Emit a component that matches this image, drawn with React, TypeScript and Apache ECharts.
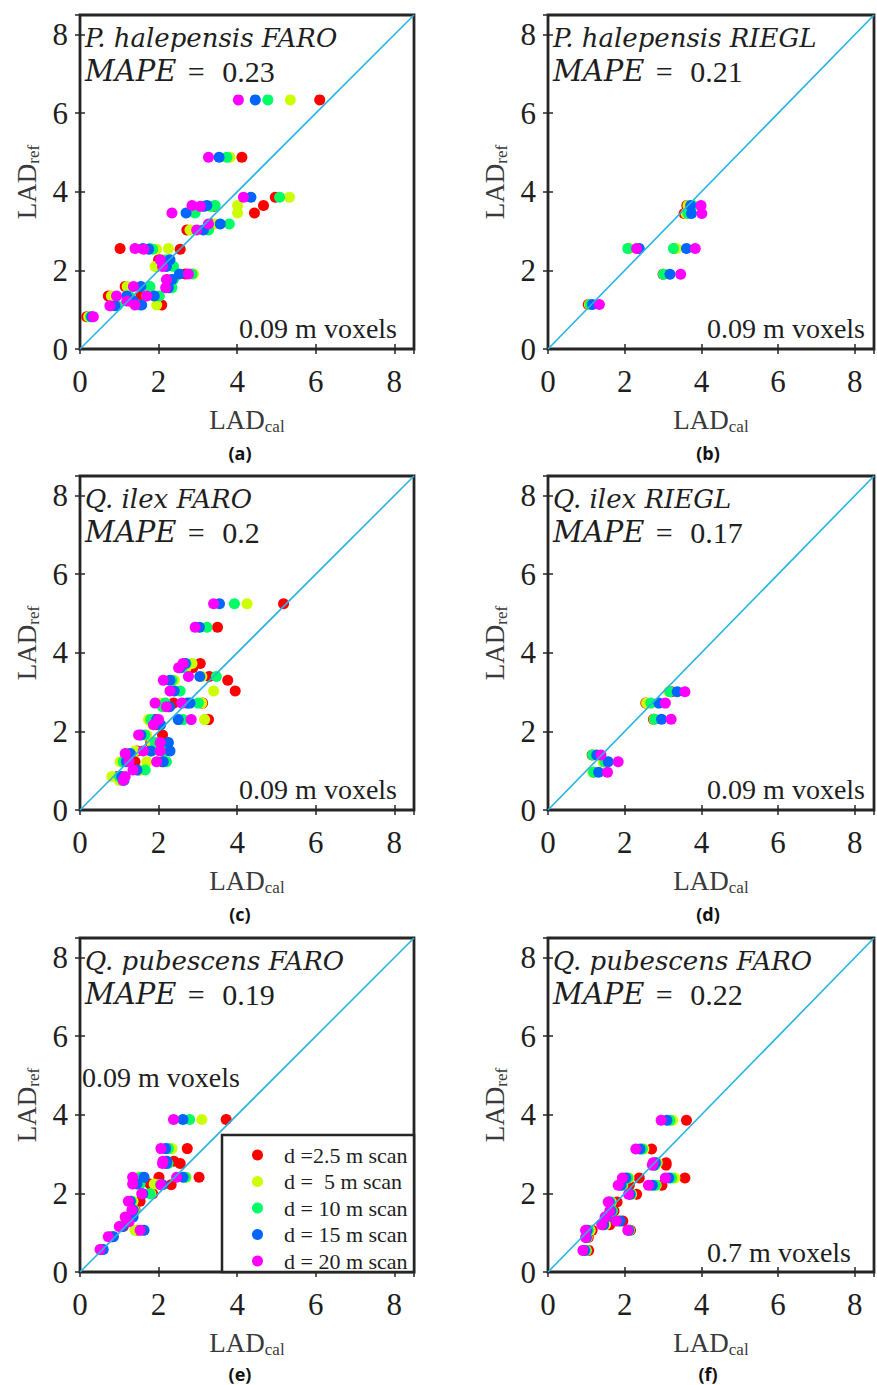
import React, { useEffect, useRef } from "react";
import * as echarts from "echarts";

// ---------- scan series ----------
const SCAN_NAMES = ["d =2.5 m scan", "d =  5 m scan", "d = 10 m scan", "d = 15 m scan", "d = 20 m scan"];
const SCAN_COLORS = ["#ff0000", "#ccff00", "#00ff66", "#0066ff", "#ff00ff"];
const AXIS_MIN = 0;
const AXIS_MAX = 8.5;
const TICK_STEP = 2;
const DIAG = [0, 8.5];

// ---------- (a) P. halepensis FARO ----------
const A_REF = [6.34, 4.88, 3.86, 3.65, 3.63, 3.46, 3.18, 3.03, 2.56, 2.54, 2.27, 2.1, 1.91, 1.77, 1.59, 1.56, 1.35, 1.35, 1.22, 1.12, 1.1, 0.82];
const A_D2_5 = [6.1, 4.12, 4.97, 4.67, 3.4, 4.44, 3.35, 2.72, 1.02, 2.55, 2.0, 1.95, 2.68, 2.25, 1.15, 2.3, 0.72, 1.55, 1.25, 2.08, 0.8, 0.17];
const A_D5 = [5.35, 3.82, 5.33, 4.01, 3.3, 4.01, 3.45, 2.8, 2.25, 1.95, 2.1, 1.91, 2.89, 2.3, 1.2, 1.78, 0.8, 1.7, 1.2, 1.95, 0.85, 0.22];
const A_D10 = [4.78, 3.74, 5.08, 3.44, 3.35, 2.93, 3.8, 3.27, 1.78, 1.85, 2.2, 2.38, 2.85, 2.38, 1.78, 2.34, 1.25, 2.02, 1.3, 1.5, 0.95, 0.27];
const A_D15 = [4.46, 3.54, 4.35, 3.23, 3.15, 2.7, 3.57, 3.14, 1.6, 1.75, 2.29, 2.2, 2.53, 2.34, 1.55, 2.25, 1.19, 1.89, 1.35, 1.57, 0.89, 0.3];
const A_D20 = [4.03, 3.27, 4.16, 2.85, 3.06, 2.34, 3.27, 2.97, 1.4, 1.62, 2.04, 2.1, 2.76, 2.2, 1.36, 2.18, 0.93, 1.7, 1.19, 1.4, 0.76, 0.34];

// ---------- (b) P. halepensis RIEGL ----------
const B_REF = [3.65, 3.45, 2.56, 2.56, 1.9, 1.13];
const B_D2_5 = [3.62, 3.55, 2.1, 3.3, 3.0, 1.05];
const B_D5 = [3.65, 3.6, 2.12, 3.35, 3.03, 1.08];
const B_D10 = [3.78, 3.65, 2.08, 3.27, 3.01, 1.1];
const B_D15 = [3.72, 3.74, 2.38, 3.61, 3.18, 1.16];
const B_D20 = [3.99, 4.01, 2.31, 3.84, 3.46, 1.34];

// ---------- (c) Q. ilex FARO ----------
const C_REF = [5.25, 4.65, 3.73, 3.62, 3.4, 3.3, 3.03, 2.72, 2.72, 2.63, 2.3, 2.3, 2.17, 1.91, 1.72, 1.5, 1.5, 1.44, 1.23, 1.23, 1.02, 0.85, 0.76];
const C_D2_5 = [5.18, 3.5, 3.06, 2.87, 3.29, 3.76, 3.95, 2.38, 3.12, 2.25, 3.27, 1.91, 1.95, 2.1, 1.8, 1.45, 2.2, 1.3, 2.1, 1.4, 1.5, 0.95, 1.05];
const C_D5 = [4.25, 3.05, 2.85, 2.7, 3.1, 2.4, 3.4, 2.04, 3.1, 2.15, 3.17, 1.74, 1.85, 1.7, 1.83, 1.4, 2.05, 1.22, 1.7, 1.02, 1.55, 0.81, 1.0];
const C_D10 = [3.93, 3.23, 2.7, 2.6, 3.47, 2.34, 2.55, 2.17, 3.01, 2.1, 2.62, 1.8, 2.05, 1.65, 1.92, 1.83, 2.15, 1.25, 2.2, 1.1, 1.66, 1.0, 1.08];
const C_D15 = [3.55, 3.04, 2.68, 2.55, 3.05, 2.29, 2.4, 2.73, 2.8, 2.28, 2.5, 1.95, 2.05, 1.55, 2.25, 1.8, 2.29, 1.28, 2.12, 1.18, 1.45, 1.06, 1.12];
const C_D20 = [3.4, 2.93, 2.62, 2.51, 2.76, 2.12, 2.29, 1.91, 2.59, 2.2, 2.83, 2.0, 1.87, 1.49, 2.04, 1.61, 2.04, 1.15, 1.95, 1.25, 1.35, 1.15, 1.1];

// ---------- (d) Q. ilex RIEGL ----------
const D_REF = [3.01, 2.72, 2.31, 1.4, 1.23, 0.96];
const D_D2_5 = [3.22, 2.55, 2.75, 1.15, 1.45, 1.18];
const D_D5 = [3.15, 2.57, 2.77, 1.18, 1.44, 1.17];
const D_D10 = [3.18, 2.68, 2.78, 1.16, 1.48, 1.19];
const D_D15 = [3.37, 2.89, 2.96, 1.27, 1.57, 1.32];
const D_D20 = [3.57, 3.06, 3.21, 1.38, 1.83, 1.55];

// ---------- (e) Q. pubescens FARO, 0.09 m ----------
const E_REF = [3.88, 3.14, 2.82, 2.76, 2.41, 2.41, 2.24, 2.22, 1.99, 1.8, 1.58, 1.4, 1.28, 1.16, 1.06, 0.9, 0.57];
const E_D2_5 = [3.72, 2.73, 2.39, 2.55, 2.01, 3.03, 1.78, 2.32, 1.85, 1.53, 1.4, 1.3, 1.2, 1.1, 1.45, 0.82, 0.55];
const E_D5 = [3.1, 2.34, 2.2, 2.22, 1.5, 2.7, 1.89, 2.0, 1.8, 1.35, 1.38, 1.28, 1.15, 1.05, 1.4, 0.78, 0.52];
const E_D10 = [2.79, 2.25, 2.18, 2.24, 1.55, 2.68, 1.53, 2.05, 1.78, 1.3, 1.36, 1.25, 1.18, 1.02, 1.58, 0.8, 0.57];
const E_D15 = [2.62, 2.18, 2.21, 2.2, 1.63, 2.62, 1.45, 2.1, 1.6, 1.28, 1.35, 1.35, 1.22, 1.08, 1.63, 0.85, 0.59];
const E_D20 = [2.38, 2.06, 2.11, 2.1, 1.34, 2.46, 1.34, 2.06, 1.57, 1.23, 1.32, 1.15, 1.25, 1.0, 1.53, 0.72, 0.51];

// ---------- (f) Q. pubescens FARO, 0.7 m ----------
const F_REF = [3.86, 3.13, 2.78, 2.72, 2.39, 2.39, 2.21, 2.21, 1.98, 1.78, 1.55, 1.4, 1.3, 1.2, 1.06, 1.06, 0.88, 0.55];
const F_D2_5 = [3.61, 2.7, 3.08, 3.08, 2.38, 3.57, 2.12, 2.97, 2.31, 1.8, 1.72, 1.55, 1.95, 1.61, 2.15, 1.15, 1.05, 1.06];
const F_D5 = [3.25, 2.5, 2.85, 2.8, 2.11, 3.31, 1.95, 2.82, 2.18, 1.65, 1.66, 1.52, 1.85, 1.5, 2.12, 1.1, 1.02, 1.0];
const F_D10 = [3.18, 2.46, 2.82, 2.78, 2.08, 3.22, 1.93, 2.8, 2.16, 1.62, 1.68, 1.5, 1.84, 1.45, 2.12, 1.05, 1.0, 0.98];
const F_D15 = [3.1, 2.4, 2.8, 2.76, 2.03, 3.15, 1.9, 2.72, 2.14, 1.6, 1.64, 1.52, 1.88, 1.45, 2.1, 1.02, 1.0, 0.95];
const F_D20 = [2.95, 2.29, 2.74, 2.72, 1.94, 3.06, 1.83, 2.62, 2.1, 1.57, 1.61, 1.49, 1.78, 1.4, 2.08, 0.98, 0.98, 0.91];

const PANELS = [
  { tag: "(a)", title: "P. halepensis FARO", mape: "0.23", voxel: "0.09 m voxels", ref: A_REF, cal: [A_D2_5, A_D5, A_D10, A_D15, A_D20] },
  { tag: "(b)", title: "P. halepensis RIEGL", mape: "0.21", voxel: "0.09 m voxels", ref: B_REF, cal: [B_D2_5, B_D5, B_D10, B_D15, B_D20] },
  { tag: "(c)", title: "Q. ilex FARO", mape: "0.2", voxel: "0.09 m voxels", ref: C_REF, cal: [C_D2_5, C_D5, C_D10, C_D15, C_D20] },
  { tag: "(d)", title: "Q. ilex RIEGL", mape: "0.17", voxel: "0.09 m voxels", ref: D_REF, cal: [D_D2_5, D_D5, D_D10, D_D15, D_D20] },
  { tag: "(e)", title: "Q. pubescens FARO", mape: "0.19", voxel: "0.09 m voxels", ref: E_REF, cal: [E_D2_5, E_D5, E_D10, E_D15, E_D20] },
  { tag: "(f)", title: "Q. pubescens FARO", mape: "0.22", voxel: "0.7 m voxels", ref: F_REF, cal: [F_D2_5, F_D5, F_D10, F_D15, F_D20] },
];

// ---------- layout / style ----------
const W = 877;
const H = 1385;
const GRID_SIZE = 334;
const GRID_POS = [
  [80, 15],
  [548, 15],
  [80, 476],
  [548, 476],
  [80, 938],
  [548, 938],
];
const TAG_DY = [438, 438, 438, 438, 436, 436];
const VOXEL_POS = [
  { x: 317, y: 313, align: "right" },
  { x: 317, y: 313, align: "right" },
  { x: 317, y: 313, align: "right" },
  { x: 317, y: 313, align: "right" },
  { x: 2, y: 139, align: "left" },
  { x: 303, y: 314, align: "right" },
];
const FRAME = "#262626";
const TEXT = "#1e1e1e";
const NAME_COLOR = "#3a3a3a";
const DIAG_COLOR = "#27b4e4";
const SERIF = "Liberation Serif, Times New Roman, serif";
const MATH = "DejaVu Serif, Liberation Serif, serif";
const SANS = "Open Sans, Noto Sans, sans-serif";

const nameRich = {
  m: { fontFamily: SERIF, fontSize: 27, color: NAME_COLOR, lineHeight: 30 },
  s: { fontFamily: SERIF, fontSize: 17, color: NAME_COLOR, lineHeight: 14, verticalAlign: "bottom" },
};

const tickFmt = (v: number) => (Math.abs(v / TICK_STEP - Math.round(v / TICK_STEP)) < 1e-9 ? String(v) : "");

function buildOption() {
  const grid: any[] = [];
  const xAxis: any[] = [];
  const yAxis: any[] = [];
  const series: any[] = [];
  const graphic: any[] = [];

  PANELS.forEach((p, i) => {
    const [left, top] = GRID_POS[i];
    grid.push({
      left,
      top,
      width: GRID_SIZE,
      height: GRID_SIZE,
      show: true,
      borderColor: FRAME,
      borderWidth: 2.8,
      backgroundColor: "#ffffff",
    });
    const common = {
      type: "value",
      gridIndex: i,
      min: AXIS_MIN,
      max: AXIS_MAX,
      interval: TICK_STEP,
      splitLine: { show: false },
      axisLine: { show: false },
      axisTick: { show: true, inside: true, length: 5, lineStyle: { color: FRAME, width: 1.5 } },
    };
    xAxis.push({
      ...common,
      position: "bottom",
      axisLabel: { formatter: tickFmt, fontFamily: SERIF, fontSize: 31, color: TEXT, margin: 17 },
      name: "{m|LAD}{s|cal}",
      nameLocation: "middle",
      nameGap: 56,
      nameTextStyle: { rich: nameRich },
    });
    xAxis.push({ ...common, position: "top", axisLabel: { show: false } });
    yAxis.push({
      ...common,
      position: "left",
      axisLabel: { formatter: tickFmt, fontFamily: SERIF, fontSize: 31, color: TEXT, margin: 12 },
      name: "{m|LAD}{s|ref}",
      nameLocation: "middle",
      nameGap: 38,
      nameTextStyle: { rich: nameRich },
    });
    yAxis.push({ ...common, position: "right", axisLabel: { show: false } });

    p.cal.forEach((cal, k) => {
      series.push({
        type: "scatter",
        name: SCAN_NAMES[k],
        xAxisIndex: 2 * i,
        yAxisIndex: 2 * i,
        data: cal.map((c, j) => [c, p.ref[j]]),
        symbol: "circle",
        symbolSize: 11,
        itemStyle: { color: SCAN_COLORS[k], opacity: 1 },
        z: 2,
      });
    });
    series.push({
      type: "line",
      xAxisIndex: 2 * i,
      yAxisIndex: 2 * i,
      data: DIAG.map((v) => [v, v]),
      symbol: "none",
      lineStyle: { color: DIAG_COLOR, width: 1.6 },
      z: 3,
      silent: true,
    });

    // panel texts
    graphic.push({
      type: "text",
      x: left + 5,
      y: top + 23,
      z: 10,
      style: {
        text: p.title,
        fontFamily: MATH,
        fontStyle: "italic",
        fontSize: 26,
        fill: TEXT,
        align: "left",
        textAlign: "left",
        verticalAlign: "middle",
        textVerticalAlign: "middle",
      },
    });
    graphic.push({
      type: "text",
      x: left + 5,
      y: top + 56,
      z: 10,
      style: {
        text: "{i|MAPE}{e| = }" + p.mape,
        rich: {
          i: { fontFamily: MATH, fontStyle: "italic", fontSize: 29, fill: TEXT, color: TEXT },
          e: { fontFamily: SERIF, fontSize: 30, fill: TEXT, color: TEXT, padding: [0, 10, 0, 4] },
        },
        fontFamily: SERIF,
        fontSize: 30,
        fill: TEXT,
        align: "left",
        textAlign: "left",
        verticalAlign: "middle",
        textVerticalAlign: "middle",
      },
    });
    const vp = VOXEL_POS[i];
    graphic.push({
      type: "text",
      x: left + vp.x,
      y: top + vp.y,
      z: 10,
      style: {
        text: p.voxel,
        fontFamily: SERIF,
        fontSize: 28,
        fill: TEXT,
        align: vp.align,
        textAlign: vp.align,
        verticalAlign: "middle",
        textVerticalAlign: "middle",
      },
    });
    graphic.push({
      type: "text",
      x: left + 160,
      y: top + TAG_DY[i],
      z: 10,
      style: {
        text: p.tag,
        fontFamily: SANS,
        fontWeight: "bold",
        fontSize: 18,
        fill: "#111",
        align: "center",
        textAlign: "center",
        verticalAlign: "middle",
        textVerticalAlign: "middle",
      },
    });
  });

  // legend box in panel (e)
  graphic.push({
    type: "rect",
    z: 3,
    shape: { x: 222, y: 1135, width: 192, height: 137 },
    style: { fill: "#ffffff", stroke: FRAME, lineWidth: 2.5 },
  });

  return {
    animation: false,
    backgroundColor: "#ffffff",
    grid,
    xAxis,
    yAxis,
    series,
    graphic,
    legend: {
      data: SCAN_NAMES,
      orient: "vertical",
      left: 247,
      top: 1138,
      itemWidth: 11,
      itemHeight: 11,
      itemGap: 2.5,
      icon: "circle",
      selectedMode: false,
      z: 5,
      textStyle: { fontFamily: SERIF, fontSize: 22, color: TEXT, lineHeight: 24, padding: [0, 0, 0, 16] },
    },
  };
}

export default function App() {
  const ref = useRef<HTMLDivElement>(null);
  useEffect(() => {
    if (!ref.current) return;
    const chart = echarts.init(ref.current, undefined, { renderer: "svg" });
    chart.setOption(buildOption() as any);
    return () => chart.dispose();
  }, []);
  return (
    <div
      ref={ref}
      style={{ position: "absolute", left: 0, top: 0, width: W, height: H, background: "#fff" }}
    />
  );
}
